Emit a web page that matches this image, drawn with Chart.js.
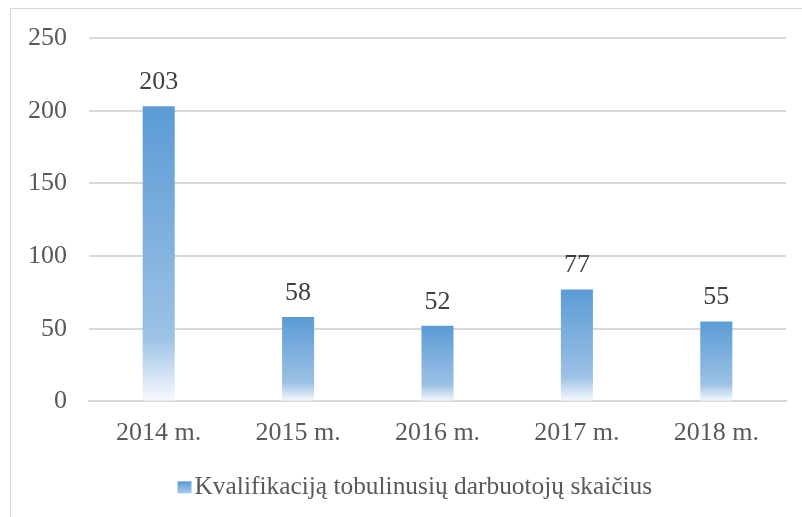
<!DOCTYPE html>
<html lang="lt">
<head>
<meta charset="utf-8">
<title>Kvalifikaciją tobulinusių darbuotojų skaičius</title>
<script src="https://cdn.jsdelivr.net/npm/chart.js@4/dist/chart.umd.min.js"></script>
<style>
  html, body { margin: 0; padding: 0; background: #ffffff; overflow: hidden; }
  body { width: 802px; height: 517px; position: relative; }
  #frame {
    position: absolute; left: 10px; top: 8px;
    width: 812px; height: 520px;
    border: 1px solid #d9d9d9;
    background: #ffffff;
  }
  #chart { display: block; }
</style>
</head>
<body>
<div id="frame"><canvas id="chart" width="812" height="520"></canvas></div>
<script>
// Workers who improved their qualification, per year
const years = ['2014 m.', '2015 m.', '2016 m.', '2017 m.', '2018 m.'];
const workers = [203, 58, 52, 77, 55];
const seriesName = 'Kvalifikaciją tobulinusių darbuotojų skaičius';
const yTicks = [0, 50, 100, 150, 200, 250];

const FONT = '"Liberation Serif", "Times New Roman", serif';
const BLUE = '#5b9bd5';
const LEGEND_SIZE = 25.4;

// Vertical fade: solid blue at the top, light blue lower down, almost white at the base
function barGradient(ctx, top, bottom) {
  const g = ctx.createLinearGradient(0, top, 0, bottom);
  g.addColorStop(0, BLUE);
  g.addColorStop(0.78, '#9cc1e5');
  g.addColorStop(1, '#f7fafd');
  return g;
}

// Value labels above each bar
const valueLabels = {
  id: 'valueLabels',
  afterDatasetsDraw(chart) {
    const ctx = chart.ctx;
    const meta = chart.getDatasetMeta(0);
    ctx.save();
    ctx.font = '26px ' + FONT;
    ctx.fillStyle = '#404040';
    ctx.textAlign = 'center';
    ctx.textBaseline = 'alphabetic';
    meta.data.forEach((bar, i) => {
      ctx.fillText(String(chart.data.datasets[0].data[i]), bar.x, bar.y - 17);
    });
    ctx.restore();
  }
};

// Small faded swatch drawn just left of the legend text
const legendSwatch = {
  id: 'legendSwatch',
  afterDraw(chart) {
    const lg = chart.legend;
    if (!lg || !lg.legendHitBoxes || !lg.legendHitBoxes.length) return;
    const box = lg.legendHitBoxes[0];
    const w = 14, h = 12;
    const textX = box.left + LEGEND_SIZE / 2;
    const x = textX - 3 - w;
    const y = box.top + (box.height - h) / 2;
    const ctx = chart.ctx;
    const g = ctx.createLinearGradient(0, y, 0, y + h);
    g.addColorStop(0, BLUE);
    g.addColorStop(1, '#a9c9e9');
    ctx.save();
    ctx.fillStyle = g;
    ctx.fillRect(x, y, w, h);
    ctx.restore();
  }
};

new Chart(document.getElementById('chart'), {
  type: 'bar',
  data: {
    labels: years,
    datasets: [{
      label: seriesName,
      data: workers,
      backgroundColor(context) {
        const chart = context.chart;
        if (!chart.chartArea || context.type !== 'data') return BLUE;
        const y = chart.scales.y;
        return barGradient(chart.ctx, y.getPixelForValue(context.raw), y.getPixelForValue(0));
      },
      borderWidth: 0,
      categoryPercentage: 1,
      barPercentage: 0.23
    }]
  },
  options: {
    responsive: false,
    animation: false,
    events: [],
    layout: { padding: { left: 0, right: 0, top: 29, bottom: 19 } },
    scales: {
      x: {
        grid: { display: false, drawTicks: false },
        border: { display: true, color: '#d9d9d9', width: 2 },
        ticks: {
          color: '#595959',
          font: { family: FONT, size: 26 },
          padding: 16,
          maxRotation: 0
        }
      },
      y: {
        min: 0,
        max: 250,
        afterFit(scale) {
          scale.width = 78;
          scale.paddingTop = 0;
          scale.paddingBottom = 0;
        },
        afterBuildTicks(scale) { scale.ticks = yTicks.map(v => ({ value: v })); },
        grid: { color: '#d9d9d9', lineWidth: 2, drawTicks: false },
        border: { display: false },
        ticks: {
          color: '#595959',
          font: { family: FONT, size: 26 },
          padding: 22
        }
      },
      // empty margin on the right of the plot, kept outside the legend's width
      gutter: {
        axis: 'y',
        position: 'right',
        afterFit(scale) {
          scale.width = 37;
          scale.paddingTop = 0;
          scale.paddingBottom = 0;
        },
        grid: { display: false, drawTicks: false },
        border: { display: false },
        ticks: { display: false }
      }
    },
    plugins: {
      legend: {
        position: 'bottom',
        labels: {
          color: '#595959',
          font: { family: FONT, size: LEGEND_SIZE },
          boxWidth: 0,
          boxHeight: 12,
          padding: 10
        }
      },
      tooltip: { enabled: false }
    }
  },
  plugins: [valueLabels, legendSwatch]
});
</script>
</body>
</html>
